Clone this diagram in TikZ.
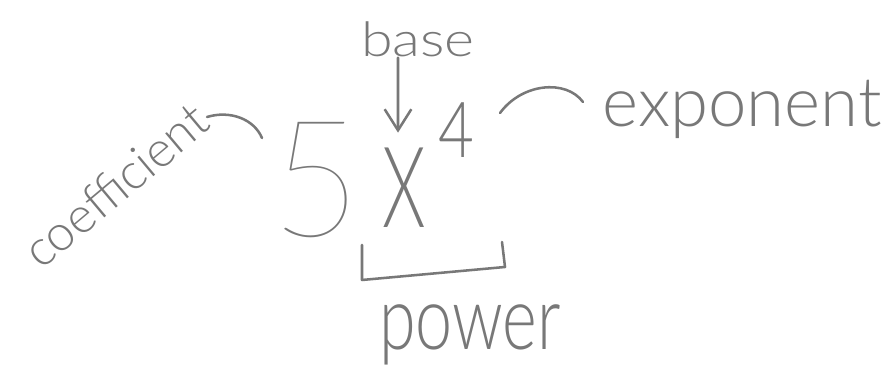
\documentclass[tikz,border=0pt]{standalone}
\usepackage{fontspec}
\usepackage{xcolor}
\usepackage{tikz}
\usetikzlibrary{arrows.meta}

\IfFontExistsTF{Lato Light}{\newfontfamily\handfont{Lato Light}}{\newfontfamily\handfont{Lato}}
\IfFontExistsTF{Lato Thin}{\newfontfamily\handthin{Lato Thin}}{\newfontfamily\handthin{Lato}}
\definecolor{pencil}{RGB}{120,120,120}

\begin{document}
\begin{tikzpicture}[
    x=0.025cm, y=0.025cm,
    word/.style={text=pencil, inner sep=0pt, anchor=base},
    digit/.style={text=pencil, inner sep=0pt, anchor=base, font=\handthin},
    stroke/.style={draw=pencil, line width=1.8pt, line cap=round, line join=round},
    arrow/.style={stroke, -{Straight Barb[length=15pt, width=19pt, line width=1.8pt]}}
]
\useasboundingbox (0,0) rectangle (891,385);

% Nodes
\node[digit, font=\handthin\fontsize{116pt}{116pt}\selectfont, xscale=0.95] (five) at (316,148) {5};
\node[digit, font=\handfont\fontsize{80pt}{80pt}\selectfont, xscale=0.62] (xvar) at (404,157) {X};
\node[digit, font=\handfont\fontsize{55pt}{55pt}\selectfont, xscale=0.8] (four) at (456,227) {4};

\node[word, font=\handfont\fontsize{34pt}{34pt}\selectfont, xscale=1.2] (base) at (418,328) {base};
\node[word, font=\handfont\fontsize{49pt}{49pt}\selectfont, xscale=1.0] (expo) at (742,258) {exponent};
\node[word, font=\handfont\fontsize{63pt}{63pt}\selectfont, xscale=0.75] (power) at (470,35) {power};
\node[word, font=\handfont\fontsize{35.5pt}{35.5pt}\selectfont, rotate=40] (coef) at (127,186) {coefficient};

% Bracket and curls
\coordinate (br1) at (362,140);
\coordinate (br2) at (362,105);
\coordinate (br3) at (505,118);
\coordinate (br4) at (502,143);
\coordinate (ex1) at (500,272);
\coordinate (ex2) at (583,283);
\coordinate (co1) at (207,268);
\coordinate (co2) at (262,247);

% Arrows
\draw[arrow, shorten >=11pt] ([xshift=-0.5cm]base.south) -- ([xshift=-0.15cm]xvar.north);
\draw[stroke] (br1) -- (br2) -- (br3) -- (br4);
\draw[stroke] (ex1) .. controls (522,302) and (566,306) .. (ex2);
\draw[stroke] (co1) .. controls (230,275) and (254,266) .. (co2);

\end{tikzpicture}
\end{document}
